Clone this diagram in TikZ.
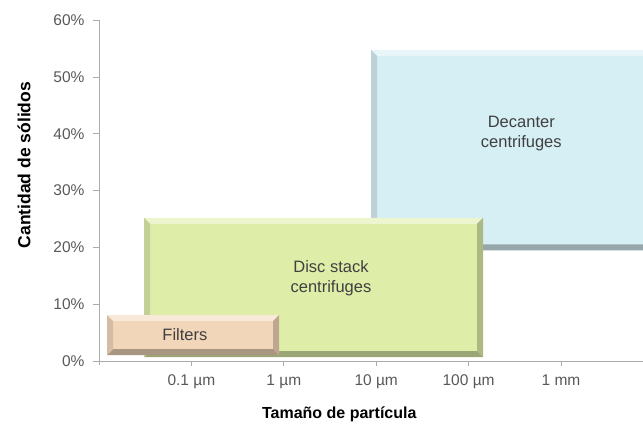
\documentclass[tikz,border=0pt]{standalone}
\usepackage{fontspec}
\setmainfont{Liberation Sans}

\definecolor{filtercol}{RGB}{242,214,186}
\definecolor{disccol}{RGB}{222,237,168}
\definecolor{deccol}{RGB}{214,239,245}

\tikzset{
  axisline/.style={draw=gray!65, line width=1pt},
  ticklabel/.style={text=black!65, inner sep=2pt, font=\fontsize{15.5}{18}\selectfont},
  boxlabel/.style={text=black!75, align=center, font=\fontsize{16.5}{20}\selectfont},
  axistitle/.style={font=\bfseries\fontsize{16}{19}\selectfont},
}

% bevelled bar: name, x1, y1, x2, y2, colour
\newcommand{\bevelbox}[6]{%
  \coordinate (#1-sw) at (#2,#3);
  \coordinate (#1-ne) at (#4,#5);
  \coordinate (#1-nw) at (#2,#5);
  \coordinate (#1-se) at (#4,#3);
  \coordinate (#1-isw) at ([shift={(6pt,6pt)}]#1-sw);
  \coordinate (#1-ine) at ([shift={(-6pt,-6pt)}]#1-ne);
  \coordinate (#1-inw) at ([shift={(6pt,-6pt)}]#1-nw);
  \coordinate (#1-ise) at ([shift={(-6pt,6pt)}]#1-se);
  \fill[#6] (#1-sw) rectangle (#1-ne);
  \fill[#6!55!white] (#1-nw) -- (#1-ne) -- (#1-ine) -- (#1-inw) -- cycle;
  \fill[#6!78!black] (#1-ne) -- (#1-se) -- (#1-ise) -- (#1-ine) -- cycle;
  \fill[#6!70!black] (#1-sw) -- (#1-se) -- (#1-ise) -- (#1-isw) -- cycle;
  \fill[#6!88!black] (#1-sw) -- (#1-nw) -- (#1-inw) -- (#1-isw) -- cycle;
}

\begin{document}
\begin{tikzpicture}[x=92.4pt,y=5.68pt]
    \useasboundingbox (-1.0714,-11.62) rectangle (5.887,63.56);

    % axes and ticks
    \draw[axisline] (0,60) -- (0,0) -- (5.887,0);
    \foreach \v in {0,10,...,60}
        \draw[axisline] (0,\v) -- ++(-6pt,0) node[ticklabel,left=6pt] {\v\%};
    \draw[axisline] (0,0) -- ++(0,-4pt);
    \foreach \k/\t in {1/0.1 µm,2/1 µm,3/10 µm,4/100 µm,5/1 mm}
        \draw[axisline] (\k,0) -- ++(0,-5pt) node[ticklabel,below=6pt] {\t};

    % bars
    \bevelbox{dec}{2.944}{19.5}{6.1}{54.75}{deccol}
    \bevelbox{disc}{0.487}{0.7}{4.156}{25.2}{disccol}
    \bevelbox{filt}{0.0866}{1.06}{1.948}{8.1}{filtercol}

    \node[boxlabel] (declabel) at (4.57,40) {Decanter\\centrifuges};
    \node[boxlabel] (disclabel) at (2.51,14.6) {Disc stack\\centrifuges};
    \node[boxlabel] (filtlabel) at (0.93,4.6) {Filters};

    \node[axistitle] (xtitle) at (2.6,-9.3) {Tamaño de partícula};
    \node[axistitle,rotate=90,font=\bfseries\fontsize{17.5}{20}\selectfont] (ytitle) at (-0.81,34.5) {Cantidad de sólidos};
\end{tikzpicture}
\end{document}
